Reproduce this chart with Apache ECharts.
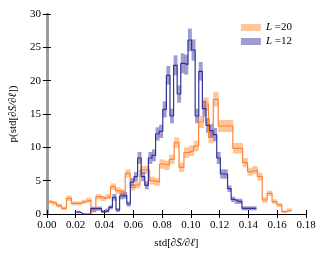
<!DOCTYPE html>
<html><head><meta charset="utf-8">
<script src="https://cdn.jsdelivr.net/npm/echarts@6/dist/echarts.min.js"></script>
<style>html,body{margin:0;padding:0;background:#fff}#c{width:326px;height:256px}</style>
</head><body><div id="c"></div>
<script>
// Histogram bins (data units)
const orangeBinStart = 0.0, orangeBinWidth = 0.0034;
const blueBinStart = 0.0205, blueBinWidth = 0.0025;
// L = 20 histogram values
const orangeValues = [1.85,1.6,1.25,0.85,2.35,1.6,1.6,1.85,2.1,0.4,
  2.6,2.35,2.6,4.1,3.5,3.2,6.1,4.0,4.35,6.6,
  6.6,5.0,4.8,7.5,7.3,8.2,10.7,7.0,9.2,9.5,
  10.2,13.8,16.5,11.5,17.2,13.2,13.2,13.2,9.85,9.85,
  7.7,6.35,6.6,5.6,2.1,3.1,1.85,1.35,0.35,0.6];
const orangeErr = [0.3,0.3,0.3,0.25,0.4,0.3,0.3,0.3,0.35,0.2,
  0.4,0.4,0.4,0.5,0.5,0.5,0.6,0.5,0.5,0.6,
  0.6,0.6,0.6,0.7,0.7,0.7,0.8,0.7,0.8,0.8,
  0.8,0.9,1.0,0.9,1.1,0.9,0.9,0.9,0.8,0.8,
  0.7,0.6,0.6,0.6,0.4,0.4,0.35,0.3,0.2,0.25];
// L = 12 histogram values
const blueValues = [0.3,0,0,0,0.8,0.8,0.8,0.35,0.5,1.0,
  2.5,0.6,2.7,2.8,1.5,4.8,5.6,8.4,5.6,4.3,
  8.4,8.8,12.0,12.4,15.7,20.8,14.7,22.3,18.0,22.6,
  22.4,26.1,24.6,14.7,21.4,15.8,13.3,12.5,11.9,8.4,
  6.0,6.0,3.8,2.2,1.9,1.9,0.85,0.85,0.85,0.85];
const blueErr = [0.2,0,0,0,0.3,0.3,0.3,0.2,0.3,0.3,
  0.5,0.3,0.5,0.5,0.4,0.6,0.7,0.9,0.7,0.6,
  0.9,0.9,1.0,1.0,1.2,1.4,1.1,1.5,1.3,1.5,
  1.5,1.7,1.6,1.1,1.4,1.2,1.1,1.0,1.0,0.9,
  0.7,0.7,0.5,0.4,0.4,0.4,0.3,0.3,0.3,0.3];
const xTicks = ['0.00','0.02','0.04','0.06','0.08','0.10','0.12','0.14','0.16','0.18'];
const yTicks = [0,5,10,15,20,25,30];
const seriesNames = ['L =20','L =12'];

function steps(start, width, vals) {
  const pts = vals.map((v, i) => [start + i * width, v]);
  pts.push([start + vals.length * width, vals[vals.length - 1]]);
  return pts;
}
function bandData(start, width, vals, err) {
  return vals.map((v, i) => [start + i * width, start + (i + 1) * width,
    Math.max(0, v - err[i]), v + err[i]]);
}

const OL = '#ff8533', OB = 'rgba(255,140,60,0.5)';
const BL = '#33339a', BB = 'rgba(60,60,165,0.5)';
const serif = 'Liberation Serif';

function renderBand(params, api) {
  const p0 = api.coord([api.value(0), api.value(3)]);
  const p1 = api.coord([api.value(1), api.value(2)]);
  return {type:'rect', shape:{x:p0[0], y:p0[1], width:p1[0]-p0[0]+0.3, height:p1[1]-p0[1]},
    style:{fill: api.visual('color')}};
}
function bandSeries(name, start, width, vals, err, col) {
  return {type:'custom', name: name, renderItem: renderBand, silent:true,
    itemStyle:{color: col}, encode:{x:[0,1], y:[2,3]},
    data: bandData(start, width, vals, err)};
}

const chart = echarts.init(document.getElementById('c'), null, {renderer:'canvas'});
const axisCommon = {
  type:'value', min:0, max:0.18, interval:0.02,
  splitLine:{show:false},
  axisTick:{inside:true, length:4, lineStyle:{color:'#000', width:1}},
  axisLine:{lineStyle:{color:'#000', width:1.2}}
};
chart.setOption({
  animation:false,
  grid:{left:43, right:20, top:14, bottom:42},
  legend:{
    orient:'vertical', right:29, top:17, icon:'rect', itemWidth:20, itemHeight:7, itemGap:3,
    data:[{name:seriesNames[0], itemStyle:{color:OB}}, {name:seriesNames[1], itemStyle:{color:BB}}],
    formatter: n => '{i|L} =' + n.split('=')[1],
    textStyle:{fontFamily:serif, fontSize:11, color:'#000',
      rich:{i:{fontFamily:serif, fontStyle:'italic', fontSize:11}}}
  },
  xAxis:[
    Object.assign({}, axisCommon, {
      position:'bottom',
      axisLabel:{margin:6, fontFamily:serif, fontSize:11, color:'#000',
        formatter: v => xTicks[Math.round(v/0.02)]},
      name:'{n|std[}{i|∂S̄/∂ℓ}{n|]}', nameLocation:'middle', nameGap:24,
      nameTextStyle:{rich:{n:{fontFamily:serif, fontSize:11, color:'#000'},
        i:{fontFamily:serif, fontStyle:'italic', fontSize:11, color:'#000'}}}
    }),
    Object.assign({}, axisCommon, {position:'top', axisLabel:{show:false}})
  ],
  yAxis:[
    {type:'value', min:0, max:30, interval:5, position:'left', splitLine:{show:false},
     axisTick:{inside:true, length:4, lineStyle:{color:'#000'}},
     axisLine:{show:true, lineStyle:{color:'#999', width:2.5}},
     axisLabel:{margin:6, fontFamily:serif, fontSize:11, color:'#000',
       formatter: v => yTicks.includes(v) ? String(v) : ''},
     name:'{n|p(std[}{i|∂S̄/∂ℓ}{n|])}', nameLocation:'middle', nameGap:17, nameRotate:90,
     nameTextStyle:{rich:{n:{fontFamily:serif, fontSize:11, color:'#000'},
        i:{fontFamily:serif, fontStyle:'italic', fontSize:11, color:'#000'}}}},
    {type:'value', min:0, max:30, interval:5, position:'right', splitLine:{show:false},
     axisTick:{inside:true, length:4, lineStyle:{color:'#000'}},
     axisLine:{show:true, lineStyle:{color:'#999', width:2.5}},
     axisLabel:{show:false}}
  ],
  series: [
    bandSeries(seriesNames[0], orangeBinStart, orangeBinWidth, orangeValues, orangeErr, OB),
    {type:'line', name:'oline', step:'end', showSymbol:false, silent:true,
     data: steps(orangeBinStart, orangeBinWidth, orangeValues), lineStyle:{color:OL, width:1.2}},
    bandSeries(seriesNames[1], blueBinStart, blueBinWidth, blueValues, blueErr, BB),
    {type:'line', name:'bline', step:'end', showSymbol:false, silent:true,
     data: steps(blueBinStart, blueBinWidth, blueValues), lineStyle:{color:BL, width:1.2}}
  ]
});
</script></body></html>
